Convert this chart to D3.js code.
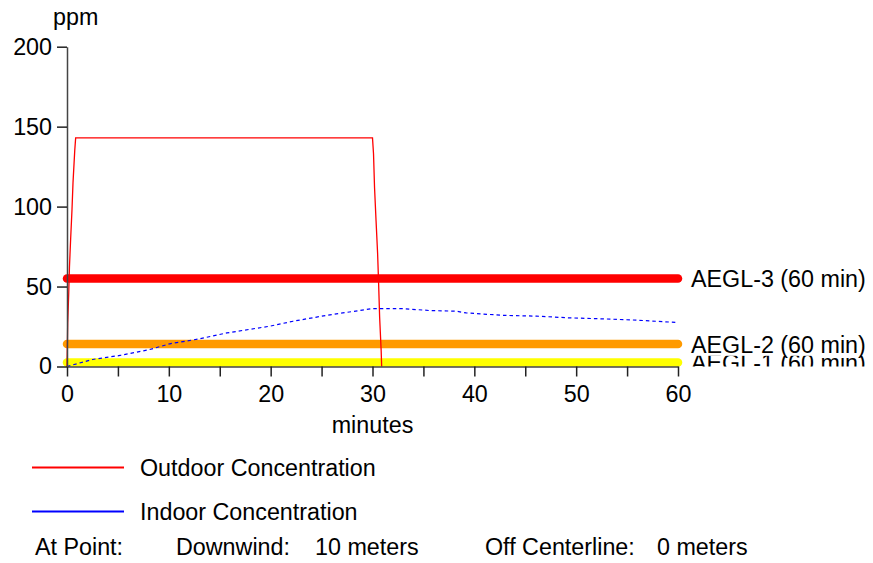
<!DOCTYPE html>
<html>
<head>
<meta charset="utf-8">
<script src="https://cdn.jsdelivr.net/npm/d3@7"></script>
<style>
  html, body { margin: 0; padding: 0; background: #fff; }
  svg { display: block; font-family: "Liberation Sans", Arial, sans-serif; }
</style>
</head>
<body>
<svg id="chart" width="873" height="563"></svg>
<script>
// ---- data ----
const outdoorTime = [0, 0.07, 0.17, 0.24, 0.36, 0.49, 0.59, 0.76, 0.85, 30, 30.1, 30.2, 30.35, 30.5, 30.6, 30.7, 30.85, 30.9];
const outdoorPpm  = [0, 27, 46, 62, 80, 98, 115, 135, 143, 143, 133, 112, 91, 71, 52, 31, 10, 0];

const indoorTime = [0, 2.5, 5.2, 8.1, 10.1, 13, 15.7, 19.9, 22.2, 25.5, 30, 33, 35.6, 38.2, 39.2, 42.8, 46.1, 49.4, 52.6, 55.9, 60];
const indoorPpm  = [0, 4.4, 6.9, 10.6, 14.2, 17.3, 21, 25.2, 28.3, 32, 36.2, 36.2, 35, 34.6, 33.5, 32, 31.5, 30.4, 29.8, 29, 27.5];

const aeglNames  = ["AEGL-3 (60 min)", "AEGL-2 (60 min)", "AEGL-1 (60 min)"];
const aeglValues = [55, 14, 2.5];
const aeglColors = ["#ff0000", "#ff9a00", "#ffff00"];

const xTicks = [0, 5, 10, 15, 20, 25, 30, 35, 40, 45, 50, 55, 60];
const xTickLabels = ["0", "", "10", "", "20", "", "30", "", "40", "", "50", "", "60"];
const yTicks = [0, 50, 100, 150, 200];

const legendNames  = ["Outdoor Concentration", "Indoor Concentration"];
const legendColors = ["#ff0000", "#0000ff"];
const footerTexts  = ["At Point:", "Downwind:", "10 meters", "Off Centerline:", "0 meters"];

// ---- drawing ----
const FS = "23.3px";
const svg = d3.select("#chart");
const x = d3.scaleLinear().domain([0, 60]).range([67, 678]);
const y = d3.scaleLinear().domain([0, 200]).range([366.5, 46.7]);

// AEGL threshold lines
svg.append("g").selectAll("line").data(aeglValues).join("line")
  .attr("x1", x(0)).attr("x2", x(60))
  .attr("y1", d => y(d)).attr("y2", d => y(d))
  .attr("stroke", (d, i) => aeglColors[i])
  .attr("stroke-width", 8.5)
  .attr("stroke-linecap", "round");

// data lines
const outdoor = outdoorTime.map((t, i) => [t, outdoorPpm[i]]);
const indoor = indoorTime.map((t, i) => [t, indoorPpm[i]]);
const line = d3.line().x(d => x(d[0])).y(d => y(d[1]));

svg.append("path").datum(indoor)
  .attr("d", line).attr("fill", "none")
  .attr("stroke", "#0000ff").attr("stroke-width", 1.2)
  .attr("stroke-dasharray", "3.5,3");

svg.append("path").datum(outdoor)
  .attr("d", line).attr("fill", "none")
  .attr("stroke", "#ff0000").attr("stroke-width", 1.3);

// axes
const xAxis = d3.axisBottom(x).tickValues(xTicks)
  .tickFormat((d, i) => xTickLabels[i]).tickSize(10).tickSizeOuter(0).tickPadding(9);
const yAxis = d3.axisLeft(y).tickValues(yTicks)
  .tickFormat(d3.format("d")).tickSize(10).tickSizeOuter(0).tickPadding(5);

const gx = svg.append("g").attr("transform", `translate(0,${y(0)})`).call(xAxis);
const gy = svg.append("g").attr("transform", `translate(${x(0)},0)`).call(yAxis);
[gx, gy].forEach(g => {
  g.select(".domain").attr("stroke", "#444").attr("stroke-width", 1.5);
  g.selectAll(".tick line").attr("stroke", "#222").attr("stroke-width", 1.5);
  g.selectAll(".tick text").attr("fill", "#000").style("font-size", FS)
    .style("font-family", "'Liberation Sans', Arial, sans-serif");
});

// axis titles
svg.append("text").attr("x", 53).attr("y", 25).text("ppm")
  .style("font-size", FS).attr("fill", "#000");
svg.append("text").attr("x", (x(0) + x(60)) / 2).attr("y", 433)
  .attr("text-anchor", "middle").text("minutes")
  .style("font-size", FS).attr("fill", "#000");

// AEGL labels
svg.append("defs").append("clipPath").attr("id", "clipAxis")
  .append("rect").attr("x", 0).attr("y", 0).attr("width", 873).attr("height", y(0));
const labelG = svg.append("g").attr("clip-path", "url(#clipAxis)");
[2, 1, 0].forEach(i => {
  const by = y(aeglValues[i]) + 8.7;
  if (i === 1) {
    labelG.append("rect").attr("x", 688).attr("y", by - 20)
      .attr("width", 185).attr("height", 23).attr("fill", "#fff");
  }
  labelG.append("text").attr("x", 691).attr("y", by)
    .text(aeglNames[i]).style("font-size", FS).attr("fill", "#000");
});

// legend
const legY = [467.5, 511.5];
legendNames.forEach((name, i) => {
  svg.append("line").attr("x1", 32).attr("x2", 124)
    .attr("y1", legY[i]).attr("y2", legY[i])
    .attr("stroke", legendColors[i]).attr("stroke-width", 2);
  svg.append("text").attr("x", 140).attr("y", legY[i] + 8.8)
    .text(name).style("font-size", FS).attr("fill", "#000");
});

// footer
const footerX = [35, 176, 315, 485, 657];
footerTexts.forEach((t, i) => {
  svg.append("text").attr("x", footerX[i]).attr("y", 555)
    .text(t).style("font-size", FS).attr("fill", "#000");
});
</script>
</body>
</html>
